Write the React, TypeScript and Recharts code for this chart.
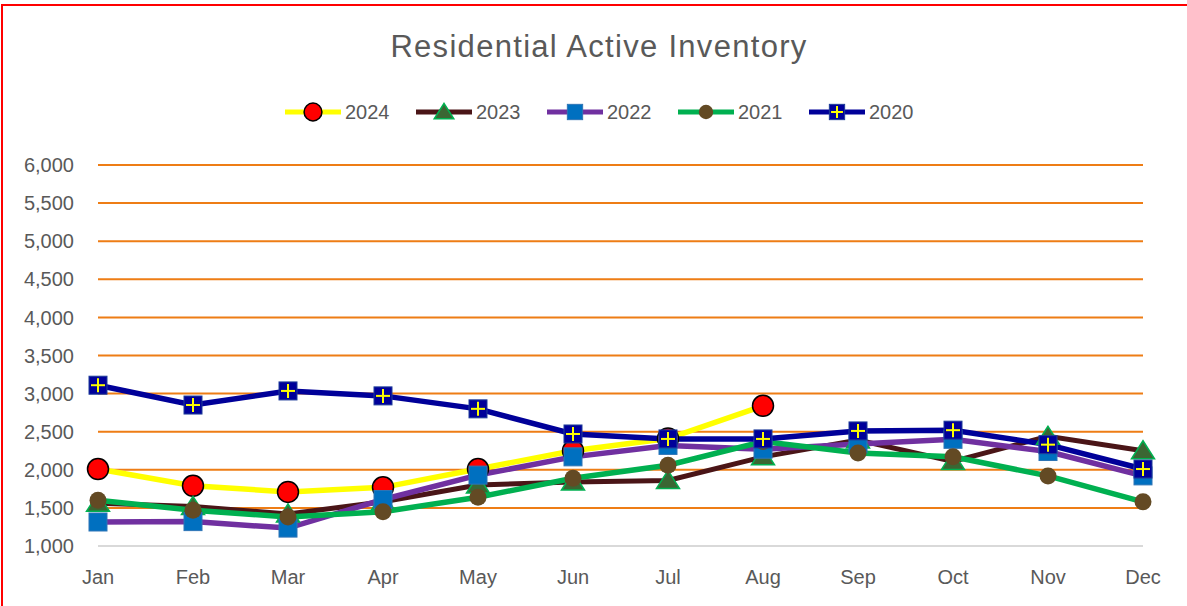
import React from "react"
import { LineChart, Line, XAxis, YAxis, CartesianGrid, Legend } from "recharts"

// Months on the category axis
const months = ["Jan", "Feb", "Mar", "Apr", "May", "Jun", "Jul", "Aug", "Sep", "Oct", "Nov", "Dec"]

// Active inventory per year
const y2024 = [2010, 1790, 1710, 1770, 2010, 2250, 2410, 2840, null, null, null, null]
const y2023 = [1560, 1520, 1420, 1580, 1800, 1840, 1860, 2170, 2390, 2110, 2440, 2250]
const y2022 = [1315, 1320, 1235, 1610, 1930, 2170, 2320, 2270, 2340, 2400, 2240, 1920]
const y2021 = [1600, 1470, 1380, 1450, 1640, 1890, 2060, 2370, 2220, 2170, 1920, 1580]
const y2020 = [3110, 2850, 3035, 2970, 2800, 2470, 2405, 2405, 2510, 2520, 2330, 2010]

const yTicks = [1000, 1500, 2000, 2500, 3000, 3500, 4000, 4500, 5000, 5500, 6000]

const chartData = months.map((m, i) => ({
  month: m,
  y2024: y2024[i],
  y2023: y2023[i],
  y2022: y2022[i],
  y2021: y2021[i],
  y2020: y2020[i],
}))

const FONT = "'Liberation Sans', Arial, sans-serif"
const TEXT = "#595959"

type MarkerKind = "circle" | "triangle" | "square" | "dot" | "cross"

// draws one marker shape centred on cx, cy
function Marker({ kind, cx, cy, s = 1 }: { kind: MarkerKind; cx: number; cy: number; s?: number }) {
  if (cx == null || cy == null || isNaN(cx) || isNaN(cy)) return null
  switch (kind) {
    case "circle":
      return <circle cx={cx} cy={cy} r={10.5 * s} fill="#FF0000" stroke="#000000" strokeWidth={1.5} />
    case "triangle": {
      const w = 11.5 * s
      return (
        <polygon
          points={`${cx},${cy - 10 * s} ${cx - w},${cy + 8 * s} ${cx + w},${cy + 8 * s}`}
          fill="#3B6633"
          stroke="#00B050"
          strokeWidth={1.5}
        />
      )
    }
    case "square": {
      const h = 9 * s
      return <rect x={cx - h} y={cy - h} width={h * 2} height={h * 2} fill="#0070C0" stroke="#2E75B6" strokeWidth={1} />
    }
    case "dot":
      return <circle cx={cx} cy={cy} r={8.5 * s} fill="#634A24" />
    case "cross": {
      const h = 9 * s
      const c = 7 * s
      return (
        <g>
          <rect x={cx - h} y={cy - h} width={h * 2} height={h * 2} fill="#000099" stroke="#1F3D99" strokeWidth={1} />
          <line x1={cx - c} y1={cy} x2={cx + c} y2={cy} stroke="#FFFF00" strokeWidth={2} />
          <line x1={cx} y1={cy - c} x2={cx} y2={cy + c} stroke="#FFFF00" strokeWidth={2} />
        </g>
      )
    }
  }
  return null
}

const series: { key: string; name: string; color: string; width: number; marker: MarkerKind }[] = [
  { key: "y2024", name: "2024", color: "#FFFF00", width: 5.5, marker: "circle" },
  { key: "y2023", name: "2023", color: "#4A1517", width: 5, marker: "triangle" },
  { key: "y2022", name: "2022", color: "#7030A0", width: 5.5, marker: "square" },
  { key: "y2021", name: "2021", color: "#00B050", width: 5.5, marker: "dot" },
  { key: "y2020", name: "2020", color: "#000099", width: 5.5, marker: "cross" },
]

const LegendContent = () => (
  <div style={{ display: "flex", paddingLeft: 285, height: 28, alignItems: "center" }}>
    {series.map(s => (
      <div key={s.key} style={{ display: "flex", alignItems: "center", width: 131 }}>
        <svg width={56} height={28} style={{ marginRight: 4 }}>
          <line x1={0} y1={14} x2={56} y2={14} stroke={s.color} strokeWidth={5} />
          <Marker kind={s.marker} cx={28} cy={14} s={0.85} />
        </svg>
        <span style={{ fontSize: 20, color: TEXT, fontFamily: FONT }}>{s.name}</span>
      </div>
    ))}
  </div>
)

export default function App() {
  return (
    <div style={{ position: "absolute", left: 0, top: 0, width: 1187, height: 606, overflow: "hidden", background: "#fff", fontFamily: FONT }}>
      <div style={{ position: "absolute", left: 1, top: 4, width: 1220, height: 640, border: "2px solid #FF0000", boxSizing: "border-box" }} />
      <svg width={1187} height={80} style={{ position: "absolute", left: 0, top: 0 }}>
        <text x={599} y={57} textAnchor="middle" fontSize={31} letterSpacing={1.3} fill={TEXT} fontFamily={FONT}>
          Residential Active Inventory
        </text>
      </svg>
      <div style={{ position: "absolute", left: 0, top: 0 }}>
        <LineChart width={1187} height={606} data={chartData} margin={{ top: 165, right: 44, bottom: 0, left: 0 }}>
          <CartesianGrid vertical={false} stroke="#EE7D15" strokeWidth={2} />
          <XAxis
            dataKey="month"
            interval={0}
            height={60}
            tickLine={false}
            tickSize={0}
            tickMargin={24}
            axisLine={{ stroke: "#D9D9D9", strokeWidth: 2 }}
            tick={{ fontSize: 20, fill: TEXT, fontFamily: FONT }}
          />
          <YAxis
            domain={[1000, 6000]}
            ticks={yTicks}
            width={98}
            axisLine={false}
            tickLine={false}
            tickSize={0}
            tickMargin={24}
            tick={{ fontSize: 20, fill: TEXT, fontFamily: FONT }}
            tickFormatter={(v: number) => v.toLocaleString("en-US")}
          />
          <Legend
            verticalAlign="middle"
            align="center"
            content={<LegendContent />}
            wrapperStyle={{ top: 98, left: 0, width: 1187 }}
          />
          {series.map(s => (
            <Line
              key={s.key}
              type="linear"
              dataKey={s.key}
              name={s.name}
              stroke={s.color}
              strokeWidth={s.width}
              isAnimationActive={false}
              activeDot={false}
              dot={(p: any) => <Marker key={`${s.key}-${p.index}`} kind={s.marker} cx={p.cx} cy={p.cy} />}
            />
          ))}
        </LineChart>
      </div>
    </div>
  )
}
